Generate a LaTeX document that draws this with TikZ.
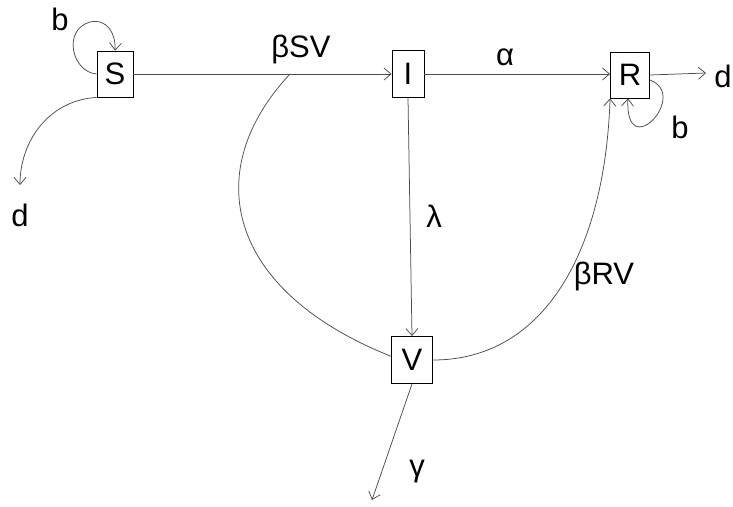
\documentclass[tikz,border=0pt]{standalone}
\usepackage{fontspec}
\setmainfont{Liberation Sans}
\usetikzlibrary{arrows.meta}
\begin{document}
\begin{tikzpicture}[x=1pt,y=-1pt,
  box/.style={draw=black,line width=0.9pt,inner sep=0pt,font=\fontsize{31}{31}\selectfont},
  lbl/.style={font=\fontsize{31}{31}\selectfont,inner sep=0pt},
  conn/.style={draw=black!70,line width=0.75pt},
  arr/.style={conn,-{Straight Barb[length=7pt,width=12pt]}}]
\useasboundingbox (0,0) rectangle (733,506);
\node[box,minimum width=36pt,minimum height=46pt] (S) at (115,74) {S};
\node[box,minimum width=32pt,minimum height=47pt] (I) at (408,74) {I};
\node[box,minimum width=39pt,minimum height=46pt] (R) at (630,75) {R};
\node[box,minimum width=41pt,minimum height=47pt] (V) at (412,360) {V};
\coordinate (dS) at (20,185);
\coordinate (dR) at (706,73);
\coordinate (g) at (372,500);
\coordinate (bsv) at (290,74);
% edges
\draw[arr] (S.east) -- (I.west);
\draw[arr] (I.east) -- (R.west |- I.east);
\draw[arr] (I.south) -- (V.north);
\draw[conn] (bsv) .. controls (200,170) and (225,290) .. (V.170);
\draw[arr] (V.east) .. controls (545,360) and (605,250) .. (R.south west);
\draw[arr] (R.east |- 0,80) .. controls (690,95) and (625,165) .. (R.265);
\draw[arr] (S.west) .. controls (72,72) and (62,30) .. (90,22) .. controls (108,18) and (116,35) .. (S.north);
\draw[arr] (S.south west) .. controls (50,100) and (20,140) .. (dS);
\draw[arr] (R.east) -- (dR);
\draw[arr] (V.south) -- (g);
% labels
\node[lbl] (lb1) at (60,19) {b};
\node[lbl] (lbsv) at (301,49) {βSV};
\node[lbl] (la) at (505,57) {α};
\node[lbl] (ll) at (434,216) {λ};
\node[lbl] (lbrv) at (604,276) {βRV};
\node[lbl] (lb2) at (680,127) {b};
\node[lbl] (ld1) at (20,215) {d};
\node[lbl] (ld2) at (723,76) {d};
\node[lbl] (lg) at (417,472) {γ};
\end{tikzpicture}
\end{document}
